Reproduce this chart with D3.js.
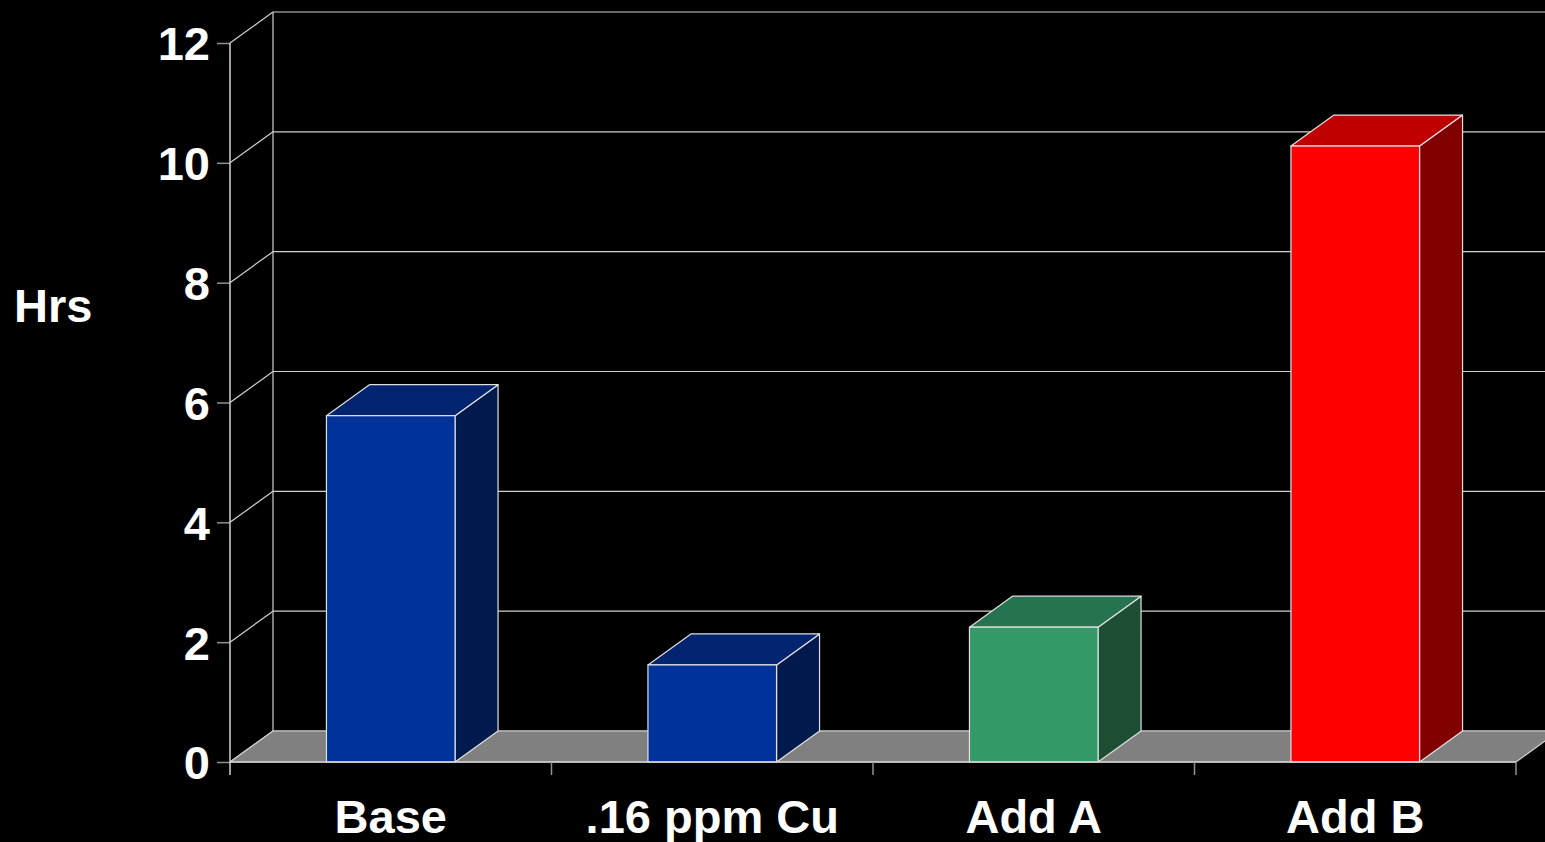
<!DOCTYPE html>
<html>
<head>
<meta charset="utf-8">
<script src="https://cdn.jsdelivr.net/npm/d3@7"></script>
<style>
html,body{margin:0;padding:0;background:#000;overflow:hidden;}
svg{display:block;}
text{font-family:"Liberation Sans",Arial,sans-serif;font-weight:bold;fill:#fff;}
</style>
</head>
<body>
<svg id="chart" width="1545" height="842"></svg>
<script>
const categories = ["Base", ".16 ppm Cu", "Add A", "Add B"];
const values = [5.78, 1.62, 2.25, 10.28];
const frontColors = ["#003399", "#003399", "#339966", "#ff0000"];
const topColors = ["#00246f", "#00246f", "#267350", "#c00000"];
const sideColors = ["#001a4d", "#001a4d", "#1d4d33", "#800000"];
const yTicks = [0, 2, 4, 6, 8, 10, 12];
const yTitle = "Hrs";

const W = 1545, H = 842;
const x0 = 230, x1 = 1516, yBase = 762, yTop = 43;
const dx = 43, dy = -31;

const svg = d3.select("#chart");
const x = d3.scaleBand().domain(categories).range([x0, x1]).padding(0);
const y = d3.scaleLinear().domain([0, 12]).range([yBase, yTop]);
const barW = x.bandwidth() * 0.4;

const lineCol = "#d0d0d0";

// back wall gridlines
svg.append("g").selectAll("line").data(yTicks).join("line")
  .attr("x1", x0 + dx).attr("x2", W + 5)
  .attr("y1", d => y(d) + dy).attr("y2", d => y(d) + dy)
  .attr("stroke", lineCol).attr("stroke-width", 1.2);
// back wall left edge
svg.append("line").attr("x1", x0 + dx).attr("x2", x0 + dx)
  .attr("y1", y(12) + dy).attr("y2", y(0) + dy)
  .attr("stroke", lineCol).attr("stroke-width", 1.2);
// side wall diagonals
svg.append("g").selectAll("line").data(yTicks).join("line")
  .attr("x1", x0).attr("x2", x0 + dx)
  .attr("y1", d => y(d)).attr("y2", d => y(d) + dy)
  .attr("stroke", lineCol).attr("stroke-width", 1.2);

// floor
svg.append("polygon")
  .attr("points", [[x0, y(0)], [x0 + dx, y(0) + dy], [x1 + dx, y(0) + dy], [x1, y(0)]].map(p => p.join(",")).join(" "))
  .attr("fill", "#808080").attr("stroke", lineCol).attr("stroke-width", 1.2);

// bars
const bars = svg.append("g").selectAll("g").data(categories).join("g");
bars.each(function(c, i) {
  const g = d3.select(this);
  const bx = x(c) + (x.bandwidth() - barW) / 2;
  const by = y(values[i]);
  const b0 = y(0);
  const pts = a => a.map(p => p.join(",")).join(" ");
  g.append("polygon").attr("points", pts([[bx + barW, by], [bx + barW + dx, by + dy], [bx + barW + dx, b0 + dy], [bx + barW, b0]]))
    .attr("fill", sideColors[i]).attr("stroke", "#e0e0e0").attr("stroke-width", 1.2).attr("stroke-linejoin", "round");
  g.append("polygon").attr("points", pts([[bx, by], [bx + dx, by + dy], [bx + barW + dx, by + dy], [bx + barW, by]]))
    .attr("fill", topColors[i]).attr("stroke", "#e0e0e0").attr("stroke-width", 1.2).attr("stroke-linejoin", "round");
  g.append("rect").attr("x", bx).attr("y", by).attr("width", barW).attr("height", b0 - by)
    .attr("fill", frontColors[i]).attr("stroke", "#e0e0e0").attr("stroke-width", 1.2);
});

// front baseline
svg.append("line").attr("x1", x0).attr("x2", x1).attr("y1", y(0)).attr("y2", y(0))
  .attr("stroke", lineCol).attr("stroke-width", 1.5);

// y axis
const yAxis = d3.axisLeft(y).tickValues(yTicks).tickSize(13).tickPadding(8).tickFormat(d3.format("d"));
const ya = svg.append("g").attr("transform", `translate(${x0},0)`).call(yAxis);
ya.select(".domain").remove();
ya.selectAll(".tick line").attr("stroke", "#909090").attr("stroke-width", 1.5);
ya.selectAll(".tick text").attr("font-size", 47).attr("font-family", "Liberation Sans, Arial, sans-serif")
  .attr("font-weight", "bold").attr("fill", "#fff").attr("x", -20).attr("dy", "0.36em");
svg.append("line").attr("x1", x0).attr("x2", x0).attr("y1", y(12)).attr("y2", y(0) + 13)
  .attr("stroke", lineCol).attr("stroke-width", 1.5);

// x axis
const xAxis = d3.axisBottom(x).tickSize(0).tickPadding(0);
const xa = svg.append("g").attr("transform", `translate(0,${y(0)})`).call(xAxis);
xa.select(".domain").remove();
xa.selectAll(".tick text").attr("font-size", 47).attr("font-family", "Liberation Sans, Arial, sans-serif")
  .attr("font-weight", "bold").attr("fill", "#fff").attr("y", 71).attr("dy", 0);
// category boundary ticks
svg.append("g").selectAll("line").data(categories.slice(1).concat([null])).join("line")
  .attr("x1", (d, i) => i < 3 ? x(d) : x1).attr("x2", (d, i) => i < 3 ? x(d) : x1)
  .attr("y1", y(0)).attr("y2", y(0) + 13)
  .attr("stroke", "#909090").attr("stroke-width", 1.5);

// y title
svg.append("text").text(yTitle).attr("x", 14).attr("y", 322).attr("font-size", 47);
</script>
</body>
</html>
